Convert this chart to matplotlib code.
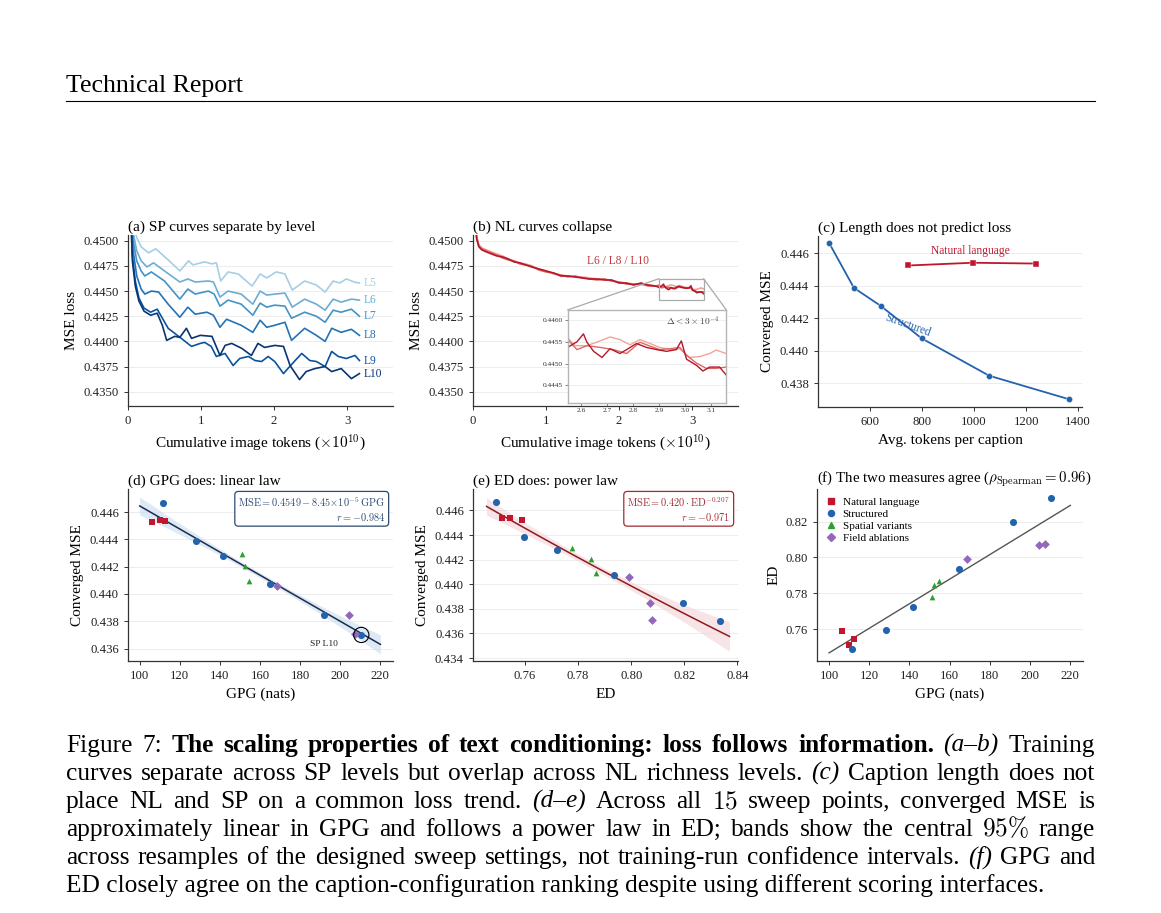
"""
Figura 7: propiedades de escalado del condicionamiento por texto.
Seis paneles (a-f) + cabecera y pie de figura, como en el informe.
"""

import numpy as np
import matplotlib
matplotlib.use("Agg")
import matplotlib.pyplot as plt
from matplotlib.lines import Line2D
from matplotlib.patches import Rectangle, ConnectionPatch
from matplotlib.ticker import FormatStrFormatter

# ---------------------------------------------------------------------------
# 1. DATOS
# ---------------------------------------------------------------------------
# (a) curvas SP: tokens acumulados (x1e10) y pérdida MSE por nivel
SP_NIVELES = ["L5", "L6", "L7", "L8", "L9", "L10"]
SP_T = {
    "L5": [0.03, 0.07, 0.12, 0.18, 0.28, 0.38, 0.55, 0.71, 0.83, 0.89, 1.05, 1.15, 1.21, 1.27, 1.37,
           1.51, 1.70, 1.81, 1.90, 2.03, 2.15, 2.25, 2.42, 2.58, 2.70, 2.81, 2.90, 2.99, 3.10, 3.17],
    "L6": [0.03, 0.07, 0.12, 0.18, 0.26, 0.35, 0.50, 0.71, 0.82, 0.92, 1.10, 1.17, 1.26, 1.37, 1.55,
           1.71, 1.81, 1.90, 2.01, 2.15, 2.25, 2.42, 2.58, 2.70, 2.81, 2.92, 3.06, 3.17],
    "L7": [0.03, 0.07, 0.12, 0.18, 0.23, 0.32, 0.50, 0.71, 0.82, 0.92, 1.10, 1.18, 1.26, 1.37, 1.55,
           1.71, 1.81, 1.90, 2.01, 2.15, 2.24, 2.42, 2.58, 2.70, 2.81, 2.92, 3.06, 3.17],
    "L8": [0.03, 0.07, 0.12, 0.18, 0.23, 0.32, 0.42, 0.55, 0.71, 0.82, 0.92, 1.08, 1.17, 1.26, 1.35,
           1.55, 1.71, 1.81, 1.90, 2.01, 2.15, 2.24, 2.42, 2.58, 2.70, 2.79, 2.92, 3.06, 3.17],
    "L9": [0.03, 0.06, 0.10, 0.15, 0.22, 0.31, 0.40, 0.55, 0.73, 0.87, 0.99, 1.05, 1.14, 1.21, 1.33,
           1.44, 1.53, 1.65, 1.74, 1.83, 1.92, 2.01, 2.13, 2.19, 2.29, 2.38, 2.49, 2.58, 2.70, 2.79,
           2.88, 2.99, 3.11, 3.17],
    "L10": [0.03, 0.06, 0.10, 0.15, 0.22, 0.31, 0.40, 0.47, 0.53, 0.64, 0.71, 0.80, 0.87, 0.99, 1.15,
            1.26, 1.33, 1.42, 1.56, 1.69, 1.78, 1.87, 2.01, 2.13, 2.22, 2.35, 2.44, 2.56, 2.70, 2.79,
            2.92, 3.06, 3.17],
}
SP_MSE = {
    "L5": [0.4545, 0.4518, 0.4503, 0.4494, 0.4488, 0.4492, 0.4481, 0.4470, 0.4480, 0.4476, 0.4479,
           0.4477, 0.4478, 0.4460, 0.4469, 0.4467, 0.4455, 0.4467, 0.4463, 0.4469, 0.4467, 0.4451,
           0.4460, 0.4456, 0.4449, 0.4460, 0.4458, 0.4462, 0.4459, 0.4458],
    "L6": [0.4545, 0.4508, 0.4490, 0.4480, 0.4474, 0.4478, 0.4470, 0.4459, 0.4462, 0.4459, 0.4460,
           0.4459, 0.4444, 0.4450, 0.4447, 0.4437, 0.4450, 0.4446, 0.4447, 0.4448, 0.4434, 0.4442,
           0.4437, 0.4431, 0.4442, 0.4439, 0.4442, 0.4441],
    "L7": [0.4545, 0.4500, 0.4480, 0.4470, 0.4465, 0.4469, 0.4460, 0.4442, 0.4452, 0.4447, 0.4450,
           0.4447, 0.4435, 0.4441, 0.4437, 0.4426, 0.4438, 0.4434, 0.4436, 0.4435, 0.4423, 0.4429,
           0.4425, 0.4419, 0.4431, 0.4429, 0.4432, 0.4425],
    "L8": [0.4545, 0.4490, 0.4465, 0.4452, 0.4447, 0.4450, 0.4449, 0.4437, 0.4424, 0.4434, 0.4427,
           0.4429, 0.4426, 0.4414, 0.4422, 0.4416, 0.4409, 0.4421, 0.4414, 0.4416, 0.4419, 0.4401,
           0.4413, 0.4406, 0.4400, 0.4413, 0.4409, 0.4412, 0.4406],
    "L9": [0.4545, 0.4485, 0.4460, 0.4443, 0.4433, 0.4429, 0.4432, 0.4413, 0.4403, 0.4395, 0.4398,
           0.4399, 0.4395, 0.4385, 0.4388, 0.4376, 0.4383, 0.4385, 0.4381, 0.4380, 0.4385, 0.4380,
           0.4368, 0.4373, 0.4381, 0.4388, 0.4381, 0.4380, 0.4375, 0.4390, 0.4385, 0.4383, 0.4386,
           0.4381],
    "L10": [0.4545, 0.4480, 0.4455, 0.4440, 0.4430, 0.4426, 0.4428, 0.4416, 0.4401, 0.4405, 0.4404,
            0.4413, 0.4403, 0.4406, 0.4405, 0.4386, 0.4396, 0.4398, 0.4393, 0.4386, 0.4398, 0.4394,
            0.4396, 0.4395, 0.4376, 0.4362, 0.4370, 0.4373, 0.4375, 0.4370, 0.4373, 0.4363, 0.4368],
}

# (b) curvas NL: tramo inicial común en t y tramo final (zona del recuadro)
NL_NIVELES = ["L6", "L8", "L10"]
NL_T_INICIO = [0.02, 0.05, 0.08, 0.12, 0.18, 0.25, 0.32, 0.40, 0.48, 0.56, 0.64, 0.72, 0.80, 0.90,
               1.00, 1.10, 1.20, 1.30, 1.40, 1.50, 1.60, 1.70, 1.80, 1.90, 2.00, 2.10, 2.20, 2.30,
               2.40, 2.50]
NL_MSE_INICIO = {
    "L6": [0.4530, 0.4504, 0.4496, 0.4493, 0.4491, 0.4489, 0.4487, 0.4485, 0.4482, 0.4480, 0.4478,
           0.4477, 0.4475, 0.4472, 0.4470, 0.4467, 0.4466, 0.4465, 0.4464, 0.4464, 0.4463, 0.4462,
           0.4462, 0.4460, 0.4459, 0.4458, 0.4457, 0.4457, 0.4456, 0.4455],
    "L8": [0.4530, 0.4503, 0.4495, 0.4492, 0.4490, 0.4488, 0.4486, 0.4483, 0.4481, 0.4480, 0.4477,
           0.4476, 0.4475, 0.4471, 0.4469, 0.4468, 0.4466, 0.4464, 0.4465, 0.4463, 0.4462, 0.4461,
           0.4462, 0.4460, 0.4459, 0.4457, 0.4457, 0.4457, 0.4455, 0.4455],
    "L10": [0.4530, 0.4502, 0.4494, 0.4491, 0.4489, 0.4487, 0.4485, 0.4484, 0.4482, 0.4479, 0.4478,
            0.4476, 0.4474, 0.4472, 0.4470, 0.4468, 0.4465, 0.4465, 0.4464, 0.4463, 0.4462, 0.4462,
            0.4461, 0.4461, 0.4458, 0.4458, 0.4456, 0.4458, 0.4456, 0.4455],
}
NL_T_FINAL = {
    "L6": [2.548, 2.577, 2.622, 2.660, 2.711, 2.749, 2.788, 2.826, 2.864, 2.902, 2.941, 2.979, 3.017,
           3.055, 3.094, 3.119, 3.157],
    "L8": [2.548, 2.584, 2.622, 2.673, 2.724, 2.775, 2.826, 2.864, 2.902, 2.941, 2.979, 3.005, 3.043,
           3.081, 3.119, 3.157],
    "L10": [2.548, 2.584, 2.609, 2.622, 2.648, 2.680, 2.711, 2.749, 2.775, 2.813, 2.851, 2.890, 2.928,
            2.966, 2.985, 3.005, 3.043, 3.068, 3.094, 3.132, 3.157],
}
NL_MSE_FINAL = {
    "L6": [0.44559, 0.44541, 0.44541, 0.44549, 0.44561, 0.44555, 0.44543, 0.44555, 0.44546, 0.44537,
           0.44532, 0.44534, 0.44514, 0.44516, 0.44523, 0.44531, 0.44523],
    "L8": [0.44555, 0.44532, 0.44541, 0.44537, 0.44532, 0.44523, 0.44549, 0.44540, 0.44532, 0.44534,
           0.44537, 0.44519, 0.44501, 0.44489, 0.44489, 0.44492],
    "L10": [0.44537, 0.44550, 0.44568, 0.44549, 0.44528, 0.44514, 0.44534, 0.44523, 0.44532, 0.44546,
            0.44537, 0.44532, 0.44528, 0.44532, 0.44552, 0.44510, 0.44496, 0.44483, 0.44492, 0.44492,
            0.44474],
}
INSET_XLIM = (2.548, 3.158)
INSET_YLIM = (0.44409, 0.44623)

# (c)-(f) los 15 puntos del barrido
NL_TOKENS = [747, 995, 1238]
NL_GPG = [106.3, 110.0, 112.5]
NL_ED = [0.7588, 0.7512, 0.7543]
NL_MSE = [0.44525, 0.44542, 0.44537]

ST_TOKENS = [442, 538, 641, 798, 1058, 1365]
ST_GPG = [111.6, 128.2, 141.5, 164.8, 191.7, 210.5]
ST_ED = [0.7490, 0.7596, 0.7722, 0.7934, 0.8195, 0.8333]
ST_MSE = [0.44666, 0.44387, 0.44276, 0.44076, 0.43845, 0.43700]

SV_GPG = [151.0, 152.4, 154.5]
SV_ED = [0.7778, 0.7848, 0.7869]
SV_MSE = [0.44292, 0.44203, 0.44092]

FA_GPG = [168.5, 204.6, 207.3]
FA_ED = [0.7992, 0.8069, 0.8077]
FA_MSE = [0.44055, 0.43845, 0.43708]

# ajustes publicados y bandas (semiancho)
AJUSTE_D = (0.4549, -8.45e-5)          # MSE = a + b*GPG
AJUSTE_E = (0.420, -0.207)             # MSE = a * ED^b
AJUSTE_F = (0.6783, 6.85e-4)           # ED = a + b*GPG
BANDA_D_X = [100, 115, 130, 145, 160, 175, 190, 205, 220]
BANDA_D_SEMI = [0.00065, 0.00045, 0.0003, 0.0002, 0.00018, 0.0002, 0.0003, 0.00045, 0.0007]
BANDA_E_X = [0.7455, 0.76, 0.775, 0.79, 0.805, 0.82, 0.837]
BANDA_E_SEMI = [0.0007, 0.00045, 0.0003, 0.00028, 0.0004, 0.0007, 0.0012]

# ---------------------------------------------------------------------------
# 2. ESTILO
# ---------------------------------------------------------------------------
plt.rcParams["font.family"] = ["Liberation Serif", "DejaVu Serif"]
plt.rcParams["mathtext.fontset"] = "cm"

W, H = 1161, 913
TICK_FS = 9.2
LABEL_FS = 11
TITLE_FS = 11
TXT_FS = 8.3          # rótulos dentro de los paneles

AZUL_SP = [plt.cm.Blues(v) for v in (0.35, 0.5, 0.62, 0.74, 0.86, 0.98)]
ROJO_NL = {"L6": "#f2a49a", "L8": "#e0675f", "L10": "#b3172c"}
C_NL = "#c0172e"
C_ST = "#2363ad"
C_SV = "#2ca02c"
C_FA = "#9467bd"
C_GRIS = "#333333"


def caja(izq, arr, der, aba):
    return [izq / W, 1 - aba / H, (der - izq) / W, (aba - arr) / H]


def estilo_ejes(ax):
    for lado in ("top", "right"):
        ax.spines[lado].set_visible(False)
    for lado in ("left", "bottom"):
        ax.spines[lado].set_color(C_GRIS)
        ax.spines[lado].set_linewidth(0.9)
    ax.tick_params(direction="out", length=3, width=0.7, colors=C_GRIS,
                   labelsize=TICK_FS, labelcolor="#222222")
    ax.grid(axis="y", color="#ededed", linewidth=0.7)
    ax.set_axisbelow(True)


fig = plt.figure(figsize=(W / 100, H / 100), dpi=100)

# ---------------------------------------------------------------------------
# 3. PANEL (a): curvas SP
# ---------------------------------------------------------------------------
ax_a = fig.add_axes(caja(128, 235, 393, 406))
for nivel, color in zip(SP_NIVELES, AZUL_SP):
    ax_a.plot(SP_T[nivel], SP_MSE[nivel], color=color, linewidth=1.2)
    ax_a.text(3.23, SP_MSE[nivel][-1], nivel, color=color, fontsize=TXT_FS,
              va="center", ha="left")
ax_a.set_xlim(0, 3.63)
ax_a.set_ylim(0.43358, 0.45057)
ax_a.set_xticks([0, 1, 2, 3])
ax_a.set_yticks(np.arange(0.4350, 0.45001, 0.0025))
ax_a.yaxis.set_major_formatter(FormatStrFormatter("%.4f"))
ax_a.set_xlabel(r"Cumulative image tokens ($\times 10^{10}$)", fontsize=LABEL_FS)
ax_a.set_ylabel("MSE loss", fontsize=LABEL_FS)
ax_a.set_title("(a) SP curves separate by level", loc="left", fontsize=TITLE_FS, pad=3)
estilo_ejes(ax_a)

# ---------------------------------------------------------------------------
# 4. PANEL (b): curvas NL con recuadro ampliado
# ---------------------------------------------------------------------------
ax_b = fig.add_axes(caja(473, 235, 738, 406))
ax_ins = ax_b.inset_axes([0.357, 0.016, 0.599, 0.546])
for nivel in NL_NIVELES:
    t = NL_T_INICIO + NL_T_FINAL[nivel]
    y = NL_MSE_INICIO[nivel] + NL_MSE_FINAL[nivel]
    ax_b.plot(t, y, color=ROJO_NL[nivel], linewidth=1.2)
    ax_ins.plot(t, y, color=ROJO_NL[nivel], linewidth=1.0)
ax_b.text(1.99, 0.44801, "L6 / L8 / L10", color="#c23a3a", fontsize=TXT_FS,
          ha="center", va="center")
ax_b.set_xlim(0, 3.63)
ax_b.set_ylim(0.43358, 0.45057)
ax_b.set_xticks([0, 1, 2, 3])
ax_b.set_yticks(np.arange(0.4350, 0.45001, 0.0025))
ax_b.yaxis.set_major_formatter(FormatStrFormatter("%.4f"))
ax_b.set_xlabel(r"Cumulative image tokens ($\times 10^{10}$)", fontsize=LABEL_FS)
ax_b.set_ylabel("MSE loss", fontsize=LABEL_FS)
ax_b.set_title("(b) NL curves collapse", loc="left", fontsize=TITLE_FS, pad=3)
estilo_ejes(ax_b)

ax_ins.set_xlim(*INSET_XLIM)
ax_ins.set_ylim(*INSET_YLIM)
ax_ins.set_xticks([2.6, 2.7, 2.8, 2.9, 3.0, 3.1])
ax_ins.xaxis.set_major_formatter(FormatStrFormatter("%.1f"))
ax_ins.set_yticks([0.4445, 0.4450, 0.4455, 0.4460])
ax_ins.yaxis.set_major_formatter(FormatStrFormatter("%.4f"))
ax_ins.tick_params(labelsize=5.3, length=2, width=0.5, colors="#555555",
                   labelcolor="#333333", pad=1.5)
ax_ins.grid(axis="y", color="#ededed", linewidth=0.6)
for lado in ax_ins.spines.values():
    lado.set_color("#b5b5b5")
    lado.set_linewidth(1.0)
ax_ins.text(0.96, 0.88, r"$\Delta < 3\times10^{-4}$", transform=ax_ins.transAxes,
            fontsize=6.8, ha="right", va="center", color="#444444")

ancho_r = INSET_XLIM[1] - INSET_XLIM[0]
alto_r = INSET_YLIM[1] - INSET_YLIM[0]
ax_b.add_patch(Rectangle((INSET_XLIM[0], INSET_YLIM[0]), ancho_r, alto_r,
                         fill=False, edgecolor="#aaaaaa", linewidth=0.9, zorder=4))
for xa, xb in ((INSET_XLIM[0], 0), (INSET_XLIM[1], 1)):
    con = ConnectionPatch(xyA=(xa, INSET_YLIM[1]), coordsA=ax_b.transData,
                          xyB=(xb, 1), coordsB=ax_ins.transAxes,
                          color="#aaaaaa", linewidth=0.9)
    fig.add_artist(con)

# ---------------------------------------------------------------------------
# 5. PANEL (c): longitud del caption vs MSE
# ---------------------------------------------------------------------------
ax_c = fig.add_axes(caja(818, 236, 1082, 407))
ax_c.plot(ST_TOKENS, ST_MSE, color=C_ST, marker="o", markersize=4.5,
          linewidth=1.3, markeredgecolor="white", markeredgewidth=0.3)
ax_c.plot(NL_TOKENS, NL_MSE, color=C_NL, marker="s", markersize=4.5,
          linewidth=1.3, markeredgecolor="white", markeredgewidth=0.3)
ax_c.text(985, 0.44614, "Natural language", color=C_NL, fontsize=TXT_FS,
          ha="center", va="center")
ax_c.text(746, 0.44157, "Structured", color=C_ST, fontsize=TXT_FS, rotation=-20,
          ha="center", va="center")
ax_c.set_xlim(400, 1415)
ax_c.set_ylim(0.43652, 0.44707)
ax_c.set_xticks([600, 800, 1000, 1200, 1400])
ax_c.set_yticks([0.438, 0.440, 0.442, 0.444, 0.446])
ax_c.yaxis.set_major_formatter(FormatStrFormatter("%.3f"))
ax_c.set_xlabel("Avg. tokens per caption", fontsize=LABEL_FS)
ax_c.set_ylabel("Converged MSE", fontsize=LABEL_FS)
ax_c.set_title("(c) Length does not predict loss", loc="left", fontsize=TITLE_FS, pad=3)
estilo_ejes(ax_c)


def puntos(ax, xs):
    x_nl, x_st, x_sv, x_fa = xs
    ax.scatter(x_nl[0], x_nl[1], marker="s", s=24, color=C_NL, zorder=3, linewidths=0)
    ax.scatter(x_st[0], x_st[1], marker="o", s=26, color=C_ST, zorder=3, linewidths=0)
    ax.scatter(x_sv[0], x_sv[1], marker="^", s=17, color=C_SV, zorder=3, linewidths=0)
    ax.scatter(x_fa[0], x_fa[1], marker="D", s=20, color=C_FA, zorder=3, linewidths=0)


# ---------------------------------------------------------------------------
# 6. PANEL (d): GPG, ley lineal
# ---------------------------------------------------------------------------
ax_d = fig.add_axes(caja(128, 489, 393, 661))
bx = np.array(BANDA_D_X)
recta_d = AJUSTE_D[0] + AJUSTE_D[1] * bx
ax_d.fill_between(bx, recta_d - np.array(BANDA_D_SEMI), recta_d + np.array(BANDA_D_SEMI),
                  color="#cfe0f0", alpha=0.7, linewidth=0, zorder=1)
ax_d.plot(bx, recta_d, color="#1b2d4f", linewidth=1.1, zorder=2)
puntos(ax_d, [(NL_GPG, NL_MSE), (ST_GPG, ST_MSE), (SV_GPG, SV_MSE), (FA_GPG, FA_MSE)])
ax_d.scatter(ST_GPG[-1], ST_MSE[-1], s=120, facecolors="none", edgecolors="black",
             linewidths=0.8, zorder=4)
ax_d.annotate("SP L10", (ST_GPG[-1], ST_MSE[-1]), xytext=(-27, -6.5),
              textcoords="offset points", fontsize=6.8, ha="center", va="center",
              color="#222222")
ax_d.text(0.97, 0.965,
          r"$\mathrm{MSE} = 0.4549 - 8.45{\times}10^{-5}\,\mathrm{GPG}$" + "\n" + r"$r = -0.984$",
          transform=ax_d.transAxes, ha="right", va="top", multialignment="right",
          fontsize=7.4, color="#2b4a70",
          bbox=dict(boxstyle="round,pad=0.35", facecolor="white", edgecolor="#2b4a70",
                    linewidth=0.9))
ax_d.set_xlim(94.2, 226.3)
ax_d.set_ylim(0.43509, 0.44769)
ax_d.set_xticks(np.arange(100, 221, 20))
ax_d.set_yticks([0.436, 0.438, 0.440, 0.442, 0.444, 0.446])
ax_d.yaxis.set_major_formatter(FormatStrFormatter("%.3f"))
ax_d.set_xlabel("GPG (nats)", fontsize=LABEL_FS)
ax_d.set_ylabel("Converged MSE", fontsize=LABEL_FS)
ax_d.set_title("(d) GPG does: linear law", loc="left", fontsize=TITLE_FS, pad=3)
estilo_ejes(ax_d)

# ---------------------------------------------------------------------------
# 7. PANEL (e): ED, ley potencial
# ---------------------------------------------------------------------------
ax_e = fig.add_axes(caja(473, 489, 738, 661))
ex = np.linspace(BANDA_E_X[0], BANDA_E_X[-1], 60)
curva_e = AJUSTE_E[0] * ex ** AJUSTE_E[1]
semi_e = np.interp(ex, BANDA_E_X, BANDA_E_SEMI)
ax_e.fill_between(ex, curva_e - semi_e, curva_e + semi_e, color="#f3d9dd", alpha=0.7,
                  linewidth=0, zorder=1)
ax_e.plot(ex, curva_e, color="#8e1b1f", linewidth=1.1, zorder=2)
puntos(ax_e, [(NL_ED, NL_MSE), (ST_ED, ST_MSE), (SV_ED, SV_MSE), (FA_ED, FA_MSE)])
ax_e.text(0.97, 0.965,
          r"$\mathrm{MSE} = 0.420\cdot\mathrm{ED}^{-0.207}$" + "\n" + r"$r = -0.971$",
          transform=ax_e.transAxes, ha="right", va="top", multialignment="right",
          fontsize=7.4, color="#a32a32",
          bbox=dict(boxstyle="round,pad=0.35", facecolor="white", edgecolor="#a32a32",
                    linewidth=0.9))
ax_e.set_xlim(0.7404, 0.8402)
ax_e.set_ylim(0.43376, 0.44774)
ax_e.set_xticks([0.76, 0.78, 0.80, 0.82, 0.84])
ax_e.xaxis.set_major_formatter(FormatStrFormatter("%.2f"))
ax_e.set_yticks([0.434, 0.436, 0.438, 0.440, 0.442, 0.444, 0.446])
ax_e.yaxis.set_major_formatter(FormatStrFormatter("%.3f"))
ax_e.set_xlabel("ED", fontsize=LABEL_FS)
ax_e.set_ylabel("Converged MSE", fontsize=LABEL_FS)
ax_e.set_title("(e) ED does: power law", loc="left", fontsize=TITLE_FS, pad=3)
estilo_ejes(ax_e)

# ---------------------------------------------------------------------------
# 8. PANEL (f): GPG vs ED
# ---------------------------------------------------------------------------
ax_f = fig.add_axes(caja(817, 489, 1083, 661))
fx = np.array([100, 220])
ax_f.plot(fx, AJUSTE_F[0] + AJUSTE_F[1] * fx, color="#555555", linewidth=1.0, zorder=2)
puntos(ax_f, [(NL_GPG, NL_ED), (ST_GPG, ST_ED), (SV_GPG, SV_ED), (FA_GPG, FA_ED)])
leyenda = [
    Line2D([], [], marker="s", linestyle="", color=C_NL, markersize=4.4, label="Natural language"),
    Line2D([], [], marker="o", linestyle="", color=C_ST, markersize=4.4, label="Structured"),
    Line2D([], [], marker="^", linestyle="", color=C_SV, markersize=4.2, label="Spatial variants"),
    Line2D([], [], marker="D", linestyle="", color=C_FA, markersize=4.0, label="Field ablations"),
]
ax_f.legend(handles=leyenda, loc="upper left", frameon=False, fontsize=8.0,
            handletextpad=0.4, labelspacing=0.22, borderaxespad=0.3, handlelength=1.2)
ax_f.set_xlim(94.0, 226.3)
ax_f.set_ylim(0.74227, 0.83812)
ax_f.set_xticks(np.arange(100, 221, 20))
ax_f.set_yticks([0.76, 0.78, 0.80, 0.82])
ax_f.yaxis.set_major_formatter(FormatStrFormatter("%.2f"))
ax_f.set_xlabel("GPG (nats)", fontsize=LABEL_FS)
ax_f.set_ylabel("ED", fontsize=LABEL_FS)
ax_f.set_title(r"(f) The two measures agree ($\rho_{\mathrm{Spearman}} = 0.96$)",
               loc="left", fontsize=TITLE_FS - 0.3, pad=3)
estilo_ejes(ax_f)

# ---------------------------------------------------------------------------
# 9. CABECERA Y PIE DE FIGURA
# ---------------------------------------------------------------------------
fig.text(66 / W, 1 - 92 / H, "Technical Report", fontsize=18.6, va="baseline", ha="left")
fig.add_artist(Line2D([66 / W, 1095 / W], [1 - 101 / H, 1 - 101 / H], color="black",
                      linewidth=0.8))

CAP_FS = 18.3
NORMAL = {}
NEGRITA = {"fontweight": "bold"}
CURSIVA = {"fontstyle": "italic"}
PIE = [
    [("Figure 7:", NORMAL),
     ("The scaling properties of text conditioning: loss follows information.", NEGRITA),
     ("(a–b)", CURSIVA), ("Training", NORMAL)],
    [("curves separate across SP levels but overlap across NL richness levels.", NORMAL),
     ("(c)", CURSIVA), ("Caption length does not", NORMAL)],
    [("place NL and SP on a common loss trend.", NORMAL), ("(d–e)", CURSIVA),
     ("Across all $15$ sweep points, converged MSE is", NORMAL)],
    [(r"approximately linear in GPG and follows a power law in ED; bands show the central $95\%$ range",
      NORMAL)],
    [("across resamples of the designed sweep settings, not training-run confidence intervals.",
      NORMAL), ("(f)", CURSIVA), ("GPG and", NORMAL)],
]
ULTIMA = "ED closely agree on the caption-configuration ranking despite using different scoring interfaces."
BASES = [752, 780, 808, 836, 864, 892]

renderer = fig.canvas.get_renderer()
for base, segmentos in zip(BASES, PIE):
    palabras = []
    for texto, estilo in segmentos:
        for w in texto.split(" "):
            t = fig.text(0, 1 - base / H, w, fontsize=CAP_FS, va="baseline", ha="left", **estilo)
            palabras.append((t, t.get_window_extent(renderer).width))
    hueco = (1095 - 66 - sum(a for _, a in palabras)) / (len(palabras) - 1)
    x = 66
    for t, a in palabras:
        t.set_x(x / W)
        x += a + hueco
fig.text(66 / W, 1 - BASES[-1] / H, ULTIMA, fontsize=CAP_FS, va="baseline", ha="left")

fig.savefig("out.png", dpi=100)
